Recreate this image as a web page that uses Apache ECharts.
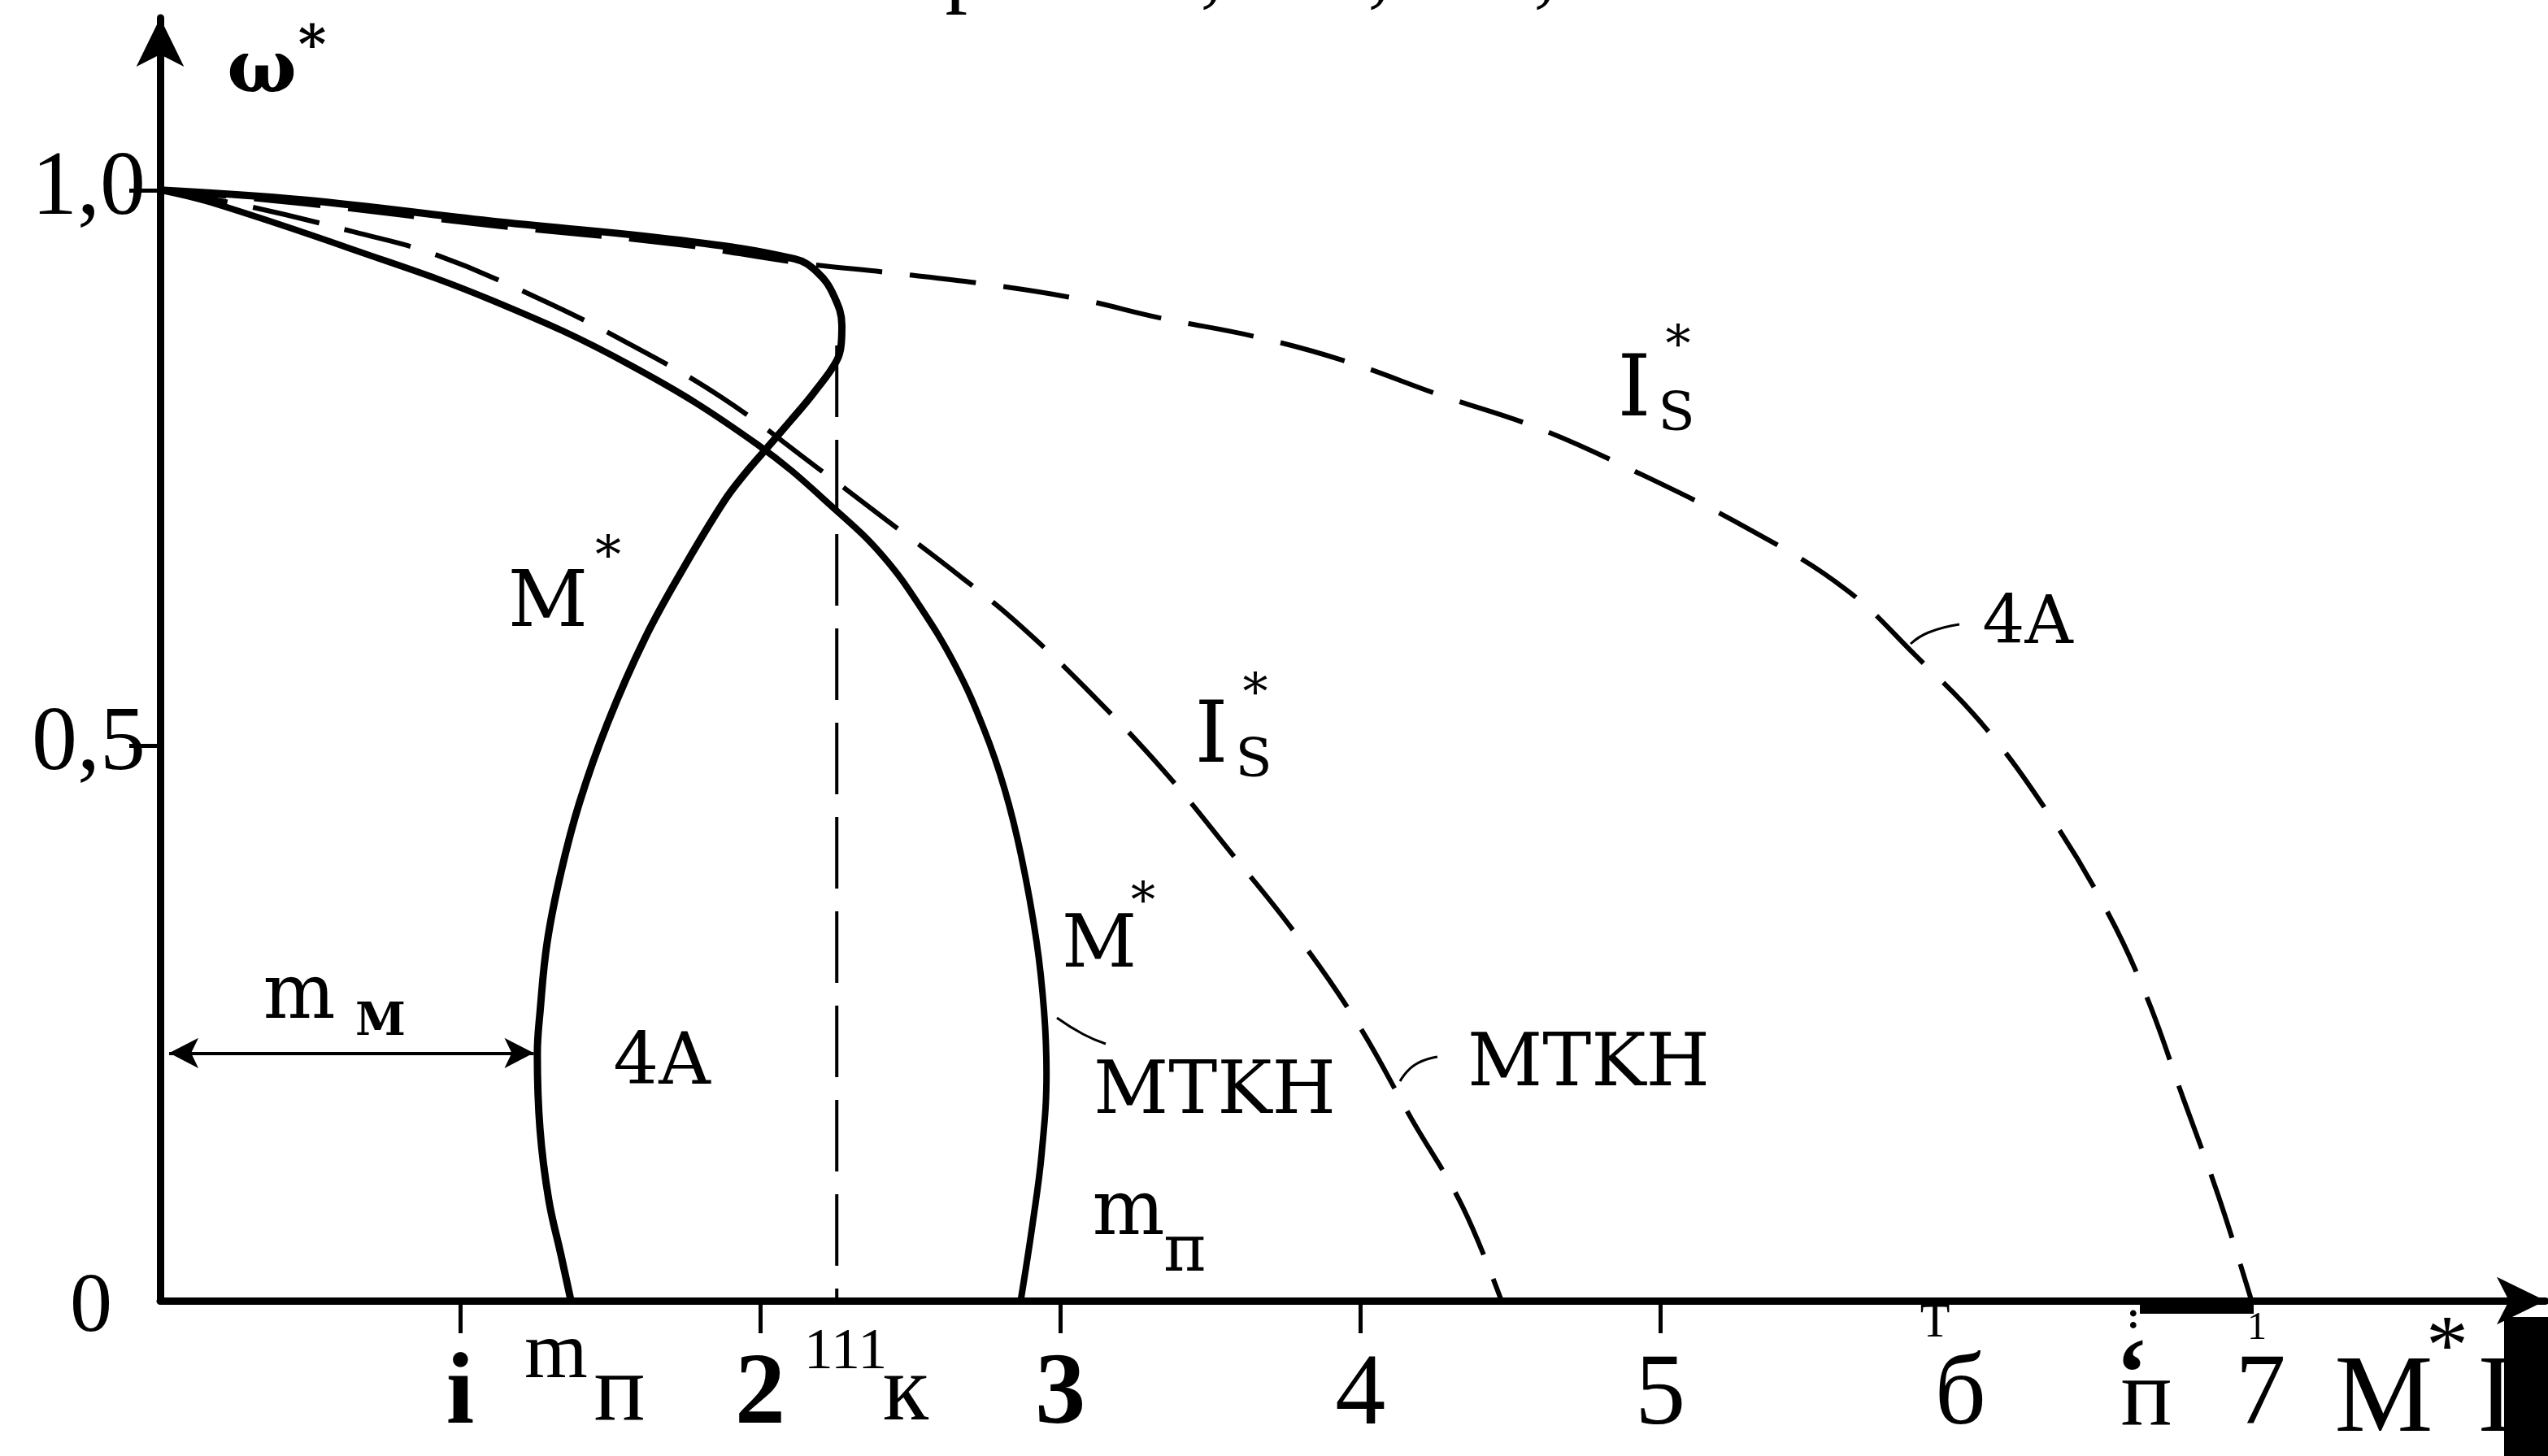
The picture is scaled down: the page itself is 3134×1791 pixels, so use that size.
<!DOCTYPE html>
<html>
<head>
<meta charset="utf-8">
<script src="https://cdn.jsdelivr.net/npm/echarts@6/dist/echarts.min.js"></script>
<style>
  html, body { margin: 0; padding: 0; background: #ffffff; }
  #chart { width: 3134px; height: 1791px; }
</style>
</head>
<body>
<div id="chart"></div>
<script>
// Speed ω* versus torque M* and stator current I_s* for the 4A and MTKH motors

// axis ticks
const xTickValues = [1, 2, 3, 4, 5, 6, 7];
const xTickLabels = ['i', '2', '3', '4', '5', 'б', '7'];
const xTickMarks = [1, 2, 3, 4, 5];
const yTickValues = [0.5, 1.0];
const yTickLabels = ['0,5', '1,0'];

// M*(ω*) of the 4A motor: [M*, ω*]
const torque4A = [
  [0, 1.0], [0.48, 0.991], [1.103, 0.972], [1.724, 0.955], [2.114, 0.938],
  [2.19, 0.926], [2.245, 0.905], [2.272, 0.878], [2.27, 0.862], [2.254, 0.846],
  [2.18, 0.818], [2.10, 0.792], [2.02, 0.767], [1.95, 0.745], [1.88, 0.72],
  [1.745, 0.66], [1.615, 0.596], [1.491, 0.520], [1.398, 0.449], [1.336, 0.386],
  [1.290, 0.323], [1.266, 0.260], [1.257, 0.222], [1.266, 0.154], [1.295, 0.091],
  [1.336, 0.041], [1.369, 0]
];

// I_s*(ω*) of the 4A motor
const current4A = [
  [0, 1.0], [0.48, 0.9875], [1.103, 0.968], [1.724, 0.951], [2.114, 0.935],
  [2.45, 0.925], [2.76, 0.915], [3.06, 0.902], [3.33, 0.885], [3.65, 0.868],
  [3.95, 0.846], [4.27, 0.815], [4.58, 0.787], [4.89, 0.750], [5.30, 0.694],
  [5.62, 0.64], [5.85, 0.581], [6.07, 0.52], [6.28, 0.444], [6.48, 0.355],
  [6.62, 0.274], [6.74, 0.184], [6.86, 0.094], [6.97, 0]
];

// M*(ω*) of the MTKH motor
const torqueMTKH = [
  [0, 1.0], [0.168, 0.989], [0.637, 0.947], [1.103, 0.901], [1.569, 0.842],
  [1.99, 0.771], [2.268, 0.708], [2.41, 0.67], [2.53, 0.626], [2.65, 0.572],
  [2.745, 0.515], [2.815, 0.46], [2.87, 0.40], [2.921, 0.323], [2.946, 0.260],
  [2.954, 0.205], [2.938, 0.133], [2.908, 0.070], [2.868, 0]
];

// I_s*(ω*) of the MTKH motor
const currentMTKH = [
  [0, 1.0], [0.3, 0.985], [0.65, 0.962], [0.916, 0.942], [1.249, 0.904],
  [1.56, 0.862], [1.873, 0.813], [2.19, 0.75], [2.42, 0.703], [2.672, 0.651],
  [2.845, 0.613], [3.079, 0.553], [3.342, 0.478], [3.57, 0.403], [3.78, 0.332],
  [3.99, 0.25], [4.17, 0.164], [4.34, 0.085], [4.47, 0]
];

// critical torque m_к of the 4A motor (vertical dashed line)
const criticalTorque4A = [[2.255, 0.86], [2.255, 0]];
// torque span m_м at ω* ≈ 0.22
const minTorqueSpan = [[0.03, 0.223], [1.245, 0.223]];

const SERIF = '"Liberation Serif", "DejaVu Serif", serif';
const SLAB = '"DejaVu Serif", "Liberation Serif", serif';

const chart = echarts.init(document.getElementById('chart'), null, { renderer: 'canvas' });

function txt(text, x, y, size, opts) {
  opts = opts || {};
  return {
    type: 'text', x: x, y: y, z: 100,
    style: {
      text: text,
      fontSize: size,
      fontFamily: opts.family || SLAB,
      fontWeight: opts.weight || 'normal',
      fill: '#000',
      align: opts.align || 'center',
      verticalAlign: 'middle',
      textAlign: opts.align || 'center',
      textVerticalAlign: 'middle'
    }
  };
}

function leader(points) {
  return {
    type: 'polyline', z: 100,
    shape: { points: points, smooth: 0.5 },
    style: { stroke: '#000', lineWidth: 3, fill: null }
  };
}

const option = {
  animation: false,
  backgroundColor: '#ffffff',
  grid: { left: 197, right: 3, top: 22, bottom: 191, containLabel: false },
  xAxis: {
    type: 'value', min: 0, max: 7.95,
    splitLine: { show: false },
    axisLine: {
      show: true, onZero: false,
      symbol: ['none', 'arrow'], symbolSize: [44, 60],
      lineStyle: { color: '#000', width: 9 }
    },
    axisTick: {
      show: true, inside: false, length: 40, customValues: xTickMarks,
      lineStyle: { color: '#000', width: 5 }
    },
    axisLabel: {
      show: true, customValues: xTickValues, margin: 118,
      verticalAlign: 'middle',
      formatter: function (v) {
        const i = xTickValues.indexOf(v);
        if (i < 0) return '';
        return (i < 3 ? '{b|' : '{n|') + xTickLabels[i] + '}';
      },
      rich: {
        b: { fontFamily: SERIF, fontSize: 124, fontWeight: 'bold', color: '#000' },
        n: { fontFamily: SERIF, fontSize: 124, color: '#000' }
      }
    }
  },
  yAxis: {
    type: 'value', min: 0, max: 1.155,
    splitLine: { show: false },
    axisLine: {
      show: true, onZero: false,
      symbol: ['none', 'arrow'], symbolSize: [44, 60],
      lineStyle: { color: '#000', width: 9 }
    },
    axisTick: {
      show: true, inside: false, length: 38, customValues: yTickValues,
      lineStyle: { color: '#000', width: 5 }
    },
    axisLabel: {
      show: true, customValues: yTickValues, margin: 18,
      formatter: function (v) {
        const i = yTickValues.indexOf(v);
        return i < 0 ? '' : yTickLabels[i];
      },
      fontFamily: SERIF, fontSize: 112, color: '#000'
    }
  },
  series: [
    {
      name: 'I_s* 4A', type: 'line', data: current4A, smooth: 0.4,
      showSymbol: false, symbol: 'none', z: 3,
      lineStyle: { color: '#000', width: 6, type: [82, 34] }
    },
    {
      name: 'I_s* MTKH', type: 'line', data: currentMTKH, smooth: 0.4,
      showSymbol: false, symbol: 'none', z: 3,
      lineStyle: { color: '#000', width: 6, type: [84, 32] }
    },
    {
      name: 'm_k', type: 'line', data: criticalTorque4A,
      showSymbol: false, symbol: 'none', z: 3,
      lineStyle: { color: '#000', width: 4, type: [88, 28] }
    },
    {
      name: 'M* 4A', type: 'line', data: torque4A, smooth: 0.4,
      showSymbol: false, symbol: 'none', z: 4,
      lineStyle: { color: '#000', width: 9 }
    },
    {
      name: 'M* MTKH', type: 'line', data: torqueMTKH, smooth: 0.4,
      showSymbol: false, symbol: 'none', z: 4,
      lineStyle: { color: '#000', width: 8 }
    },
    {
      name: 'm_M', type: 'line', data: [], symbol: 'none',
      markLine: {
        silent: true, symbol: ['arrow', 'arrow'], symbolSize: [28, 36],
        label: { show: false },
        lineStyle: { color: '#000', width: 4, type: 'solid' },
        data: [[{ coord: minTorqueSpan[0] }, { coord: minTorqueSpan[1] }]]
      }
    }
  ],
  graphic: [
    // remnants of the caption line above the figure
    txt('р', 1190, -34, 110, { family: SERIF }),
    txt(',', 1490, -34, 110, { family: SERIF }),
    txt(',', 1696, -34, 110, { family: SERIF }),
    txt(',', 1900, -34, 110, { family: SERIF }),

    // axis titles
    txt('ω', 322, 90, 90, { weight: 'bold' }),
    txt('*', 384, 60, 66, { weight: 'bold' }),
    txt('0', 112, 1610, 104, { family: SERIF }),

    // extra labels along the torque axis
    txt('m', 684, 1668, 100, { family: SERIF }),
    txt('п', 762, 1716, 118, { family: SERIF }),
    txt('111', 1040, 1664, 72, { family: SERIF }),
    txt('к', 1114, 1716, 116, { family: SERIF }),
    txt('T', 2380, 1628, 60, { family: SERIF }),
    txt('‘', 2622, 1698, 120, { family: SERIF, weight: 'bold' }),
    txt(':', 2624, 1622, 48, { family: SERIF, weight: 'bold' }),
    txt('п', 2640, 1722, 118, { family: SERIF }),
    txt('1', 2776, 1634, 48, { family: SERIF }),
    txt('M', 2932, 1724, 136, { family: SERIF }),
    txt('*', 3010, 1662, 104, { family: SERIF }),
    txt('I', 3070, 1724, 136, { family: SERIF }),
    { type: 'rect', z: 100, shape: { x: 2632, y: 1596, width: 140, height: 20 }, style: { fill: '#000' } },
    { type: 'rect', z: 100, shape: { x: 3080, y: 1620, width: 54, height: 171 }, style: { fill: '#000' } },

    // curve labels, 4A motor
    txt('M', 674, 745, 96),
    txt('*', 748, 688, 64),
    txt('4A', 814, 1310, 88),
    txt('m', 368, 1228, 94),
    txt('M', 468, 1258, 56, { weight: 'bold' }),
    txt('I', 2010, 484, 104),
    txt('S', 2062, 512, 66),
    txt('*', 2064, 428, 62),
    txt('4A', 2494, 770, 82),
    leader([[2350, 792], [2372, 778], [2410, 768]]),

    // curve labels, MTKH motor
    txt('I', 1490, 910, 104),
    txt('S', 1542, 938, 66),
    txt('*', 1544, 856, 62),
    txt('M', 1352, 1166, 90),
    txt('*', 1406, 1112, 60),
    txt('MTKH', 1494, 1346, 90),
    leader([[1300, 1252], [1332, 1272], [1360, 1284]]),
    txt('MTKH', 1954, 1312, 90),
    leader([[1722, 1330], [1740, 1310], [1768, 1300]]),
    txt('m', 1388, 1494, 94),
    txt('п', 1458, 1542, 80)
  ]
};

chart.setOption(option);
</script>
</body>
</html>
